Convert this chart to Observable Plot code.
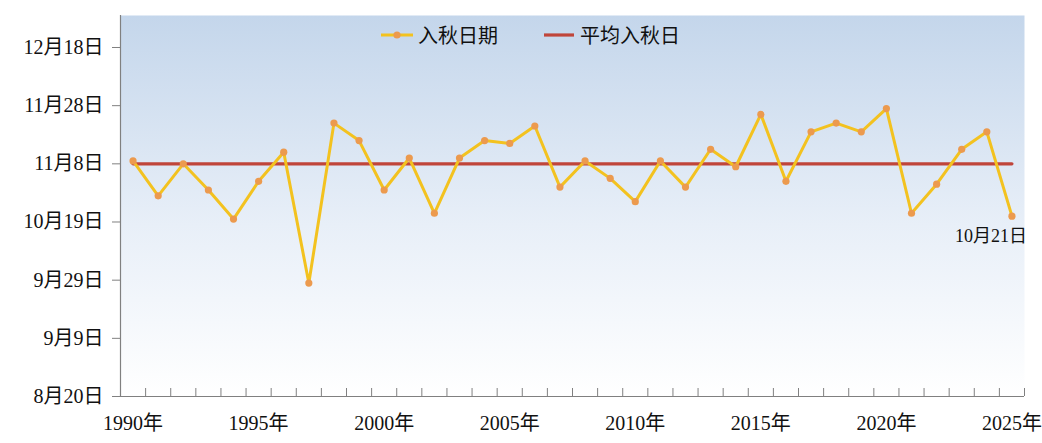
<!DOCTYPE html>
<html>
<head>
<meta charset="utf-8">
<script src="https://cdn.jsdelivr.net/npm/d3@7"></script>
<script src="https://cdn.jsdelivr.net/npm/@observablehq/plot@0.6"></script>
<style>
  html, body { margin: 0; padding: 0; background: #ffffff; }
  #wrap { position: relative; width: 1042px; height: 443px; font-family: "Liberation Serif", "Noto Sans CJK SC", serif; }
  #legend { position: absolute; left: 380px; top: 20px; display: flex; align-items: center; font-size: 20px; color: #111; }
  #legend .item { display: flex; align-items: center; }
  #legend svg { display: block; }
</style>
</head>
<body>
<div id="wrap">
  <div id="chart"></div>
  <div id="legend"></div>
</div>
<script>
// ---- data ----
const years = [1990,1991,1992,1993,1994,1995,1996,1997,1998,1999,
               2000,2001,2002,2003,2004,2005,2006,2007,2008,2009,
               2010,2011,2012,2013,2014,2015,2016,2017,2018,2019,
               2020,2021,2022,2023,2024,2025];
const autumnDates = ["11-09","10-28","11-08","10-30","10-20","11-02","11-12","09-28","11-22","11-16",
                     "10-30","11-10","10-22","11-10","11-16","11-15","11-21","10-31","11-09","11-03",
                     "10-26","11-09","10-31","11-13","11-07","11-25","11-02","11-19","11-22","11-19",
                     "11-27","10-22","11-01","11-13","11-19","10-21"];
const averageDate = "11-08";
const yTickDates = ["08-20","09-09","09-29","10-19","11-08","11-28","12-18"];
const yDomainDates = ["08-20","12-29"];
const xTickYears = [1990,1995,2000,2005,2010,2015,2020,2025];
const seriesNames = ["入秋日期","平均入秋日"];
const colors = {line: "#f3c21f", dot: "#ec9a4e", avg: "#c0453a"};

// ---- helpers ----
const toDate = s => { const [m, d] = s.split("-").map(Number); return new Date(Date.UTC(2001, m - 1, d)); };
const fmt = d => `${d.getUTCMonth() + 1}月${d.getUTCDate()}日`;
const data = years.map((y, i) => ({year: y, date: toDate(autumnDates[i])}));
const avgData = [years[0], years[years.length - 1]].map(y => ({year: y, date: toDate(averageDate)}));
const yMin = toDate(yDomainDates[0]);
const xDomain = [years[0] - 0.5, years[years.length - 1] + 0.5];
const boundaries = years.map(y => y - 0.5).concat([years[years.length - 1] + 0.5]);
const last = data[data.length - 1];

const chart = Plot.plot({
  width: 1042,
  height: 443,
  marginLeft: 120,
  marginRight: 18,
  marginTop: 15,
  marginBottom: 47,
  style: {fontFamily: '"Liberation Serif", "Noto Sans CJK SC", serif', fontSize: "20px", color: "#111", background: "transparent", overflow: "visible"},
  x: {type: "linear", domain: xDomain},
  y: {type: "utc", domain: yDomainDates.map(toDate)},
  marks: [
    Plot.frame({fill: "url(#bgGrad)", stroke: "none"}),
    Plot.axisY({ticks: yTickDates.map(toDate), tickFormat: fmt, tickSize: 8, tickPadding: 9, stroke: "#808080", fontSize: 20, label: null}),
    Plot.axisX({ticks: xTickYears, tickFormat: d => `${d}年`, tickSize: 0, tickPadding: 19, fontSize: 20, label: null}),
    Plot.ruleX([xDomain[0]], {stroke: "#808080", strokeWidth: 1.2}),
    Plot.ruleY([yMin], {stroke: "#808080", strokeWidth: 1.2}),
    Plot.ruleX(boundaries, {x: d => d, y1: () => yMin, y2: () => yMin, insetBottom: 8, stroke: "#808080", strokeWidth: 1}),
    Plot.line(avgData, {x: "year", y: "date", stroke: colors.avg, strokeWidth: 3.2}),
    Plot.line(data, {x: "year", y: "date", stroke: colors.line, strokeWidth: 3}),
    Plot.dot(data, {x: "year", y: "date", r: 3.6, fill: colors.dot, stroke: "none"}),
    Plot.text([last], {x: "year", y: "date", text: d => fmt(d.date), dx: -21, dy: 20, fontSize: 18, fill: "#111"})
  ]
});

// gradient for the plot background
const defs = d3.select(chart).insert("defs", ":first-child");
const grad = defs.append("linearGradient").attr("id", "bgGrad").attr("x1", 0).attr("y1", 0).attr("x2", 0).attr("y2", 1);
grad.append("stop").attr("offset", "0%").attr("stop-color", "#c4d6eb");
grad.append("stop").attr("offset", "55%").attr("stop-color", "#e8eff8");
grad.append("stop").attr("offset", "100%").attr("stop-color", "#ffffff");

document.getElementById("chart").appendChild(chart);

// legend
const legend = d3.select("#legend");
const it1 = legend.append("div").attr("class", "item");
const s1 = it1.append("svg").attr("width", 34).attr("height", 12);
s1.append("line").attr("x1", 1).attr("x2", 33).attr("y1", 6).attr("y2", 6).attr("stroke", colors.line).attr("stroke-width", 3);
s1.append("circle").attr("cx", 17).attr("cy", 6).attr("r", 3.6).attr("fill", colors.dot);
it1.append("span").style("margin-left", "4px").text(seriesNames[0]);
const it2 = legend.append("div").attr("class", "item").style("margin-left", "45px");
const s2 = it2.append("svg").attr("width", 32).attr("height", 12);
s2.append("line").attr("x1", 1).attr("x2", 31).attr("y1", 6).attr("y2", 6).attr("stroke", colors.avg).attr("stroke-width", 3.2);
it2.append("span").style("margin-left", "5px").text(seriesNames[1]);
</script>
</body>
</html>
